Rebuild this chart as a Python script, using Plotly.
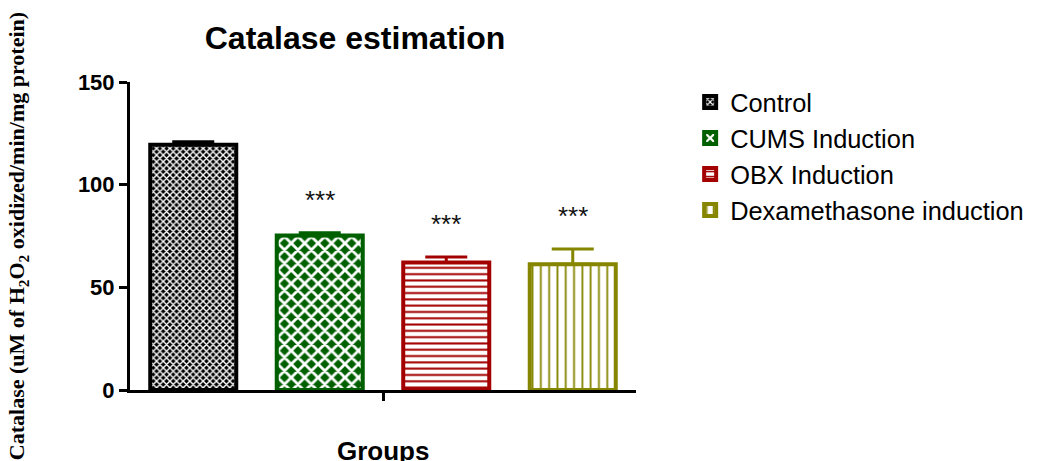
import plotly.graph_objects as go

groups = ["Control", "CUMS Induction", "OBX Induction", "Dexamethasone induction"]
means = [119.5, 75.3, 62.1, 61.3]
sems = [1.4, 1.3, 2.7, 7.4]
significance = ["", "***", "***", "***"]

colors = ["#000000", "#006000", "#a30000", "#858500"]
# checker-like fills: white diagonal grid over coloured background; stripes for the others
shapes = ["x", "x", "-", "|"]
pat_fg = ["white", "white", "#a30000", "#858500"]
pat_bg = ["#000000", "#006000", "white", "white"]
pat_sizes = [4.7, 9.5, 6.3, 8.3]
pat_solid = [0.5, 0.5, 0.32, 0.22]

fig = go.Figure()
for i, g in enumerate(groups):
    fig.add_trace(go.Bar(
        x=[i], y=[means[i]], name=g, width=0.68,
        marker=dict(
            color="white",
            line=dict(color=colors[i], width=4),
            pattern=dict(shape=shapes[i], fgcolor=pat_fg[i], bgcolor=pat_bg[i],
                         size=pat_sizes[i], solidity=pat_solid[i], fillmode="replace"),
        ),
        error_y=dict(type="data", array=[sems[i]], arrayminus=[0], symmetric=False,
                     color=colors[i], thickness=3, width=21),
    ))

for i, s in enumerate(significance):
    if s:
        fig.add_annotation(x=i, y=means[i] + sems[i], yref="y", xref="x", text=s,
                           showarrow=False, yanchor="bottom", yshift=16,
                           font=dict(family="Arial, Liberation Sans", size=26, color="#111"))

fig.add_annotation(xref="paper", yref="paper", x=-0.221, y=0.5,
                   text="Catalase (uM of H<sub>2</sub>O<sub>2</sub> oxidized/min/mg protein)",
                   textangle=-90, showarrow=False, xanchor="center", yanchor="middle",
                   font=dict(family="Liberation Serif", size=22, color="black", weight="bold"))
fig.add_annotation(xref="paper", yref="paper", x=0.5, y=0, yshift=-44, text="Groups",
                   showarrow=False, xanchor="center", yanchor="top",
                   font=dict(family="Arial, Liberation Sans", size=26, color="black", weight="bold"))

fig.update_layout(
    width=1042, height=461,
    margin=dict(l=130, r=406, t=82, b=71),
    paper_bgcolor="white", plot_bgcolor="white",
    barmode="overlay",
    title=dict(text="Catalase estimation", x=355 / 1042, xanchor="center", y=1 - 38 / 461, yanchor="middle",
               font=dict(family="Arial, Liberation Sans", size=32, color="black", weight="bold")),
    showlegend=True,
    legend=dict(x=1.107, y=1.0097, xanchor="left", yanchor="top",
                font=dict(family="Arial, Liberation Sans", size=25.4, color="black"),
                bgcolor="rgba(0,0,0,0)"),
    font=dict(family="Arial, Liberation Sans", color="black"),
)
fig.update_xaxes(range=[-0.5, 3.5], showline=True, linewidth=3, linecolor="black",
                 tickvals=[1.5], ticktext=[""], ticks="outside", ticklen=8, tickwidth=3,
                 tickcolor="black", showgrid=False, zeroline=False, fixedrange=True)
fig.update_yaxes(range=[0, 150], tickvals=[0, 50, 100, 150], showline=True, linewidth=3,
                 linecolor="black", ticks="outside", ticklen=8, tickwidth=3, tickcolor="black",
                 showgrid=False, zeroline=False,
                 tickfont=dict(family="Arial, Liberation Sans", size=22, color="black", weight="bold"))

fig.write_html("out.html", config={"displayModeBar": False},
               post_script="document.body.style.margin='0';")
